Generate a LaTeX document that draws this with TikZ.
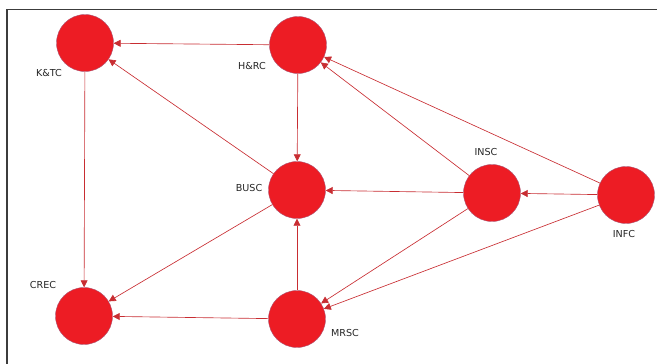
\documentclass[tikz,border=0pt]{standalone}
\usepackage{fontspec}
\setmainfont{DejaVu Sans}
\usetikzlibrary{arrows.meta}
\definecolor{nodefill}{RGB}{237,28,36}
\definecolor{nodeline}{RGB}{170,90,120}
\definecolor{edgecol}{RGB}{200,45,50}
\definecolor{framecol}{RGB}{60,60,60}
\begin{document}
\begin{tikzpicture}[x=1pt,y=-1pt,
  hub/.style={circle,fill=nodefill,draw=nodeline,line width=0.4pt,minimum size=57pt,inner sep=0pt},
  lbl/.style={font=\fontsize{9.6}{11}\selectfont,text=black!85,inner sep=0pt},
  link/.style={draw=edgecol,line width=0.65pt,-{Triangle[length=7pt,width=7pt]}}]
\useasboundingbox (0,0) rectangle (657,364);
\draw[framecol,line width=1.3pt] (7,364) -- (7,9.5) -- (657,9.5);
\node[hub] (ktc) at (85,43) {};
\node[hub] (hrc) at (298,45) {};
\node[hub] (busc) at (297,190) {};
\node[hub] (crec) at (84,316) {};
\node[hub] (mrsc) at (297,319) {};
\node[hub] (insc) at (492,193) {};
\node[hub] (infc) at (626,195) {};
\node[lbl] (lktc) at (49,73) {K\&TC};
\node[lbl] (lhrc) at (252,66) {H\&RC};
\node[lbl] (linsc) at (486,152) {INSC};
\node[lbl] (lbusc) at (249,188) {BUSC};
\node[lbl] (lcrec) at (43,285) {CREC};
\node[lbl] (lmrsc) at (345,333) {MRSC};
\node[lbl] (linfc) at (624,234) {INFC};
\path[link] (hrc) -- (ktc);
\path[link] (busc) -- (ktc);
\path[link] (hrc) -- (busc);
\path[link] (ktc) -- (crec);
\path[link] (busc) -- (crec);
\path[link] (mrsc) -- (crec);
\path[link] (mrsc) -- (busc);
\path[link] (insc) -- (busc);
\path[link] (infc) -- (insc);
\path[link] (insc) -- (hrc);
\path[link] (infc) -- (hrc);
\path[link] (insc) -- (mrsc);
\path[link] (infc) -- (mrsc);
\end{tikzpicture}
\end{document}
